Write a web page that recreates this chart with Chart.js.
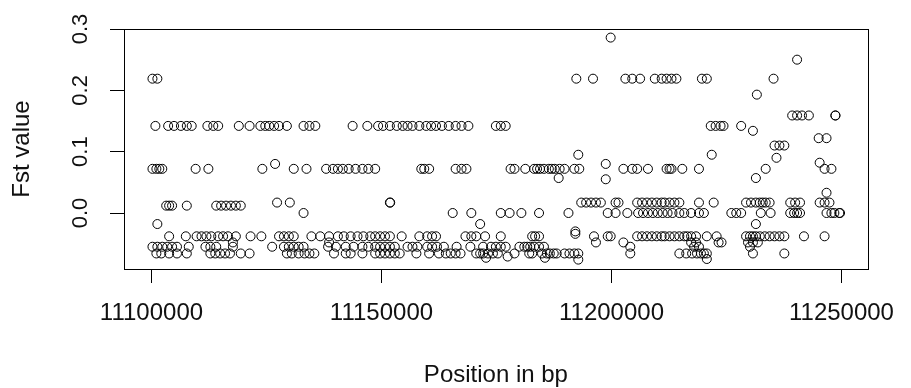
<!DOCTYPE html>
<html><head><meta charset="utf-8">
<script src="https://cdn.jsdelivr.net/npm/chart.js@4"></script>
<style>html,body{margin:0;padding:0;background:#fff}canvas{display:block}</style>
</head><body>
<canvas id="c" width="911" height="388"></canvas>
<script>
// Fst levels at which most SNPs sit
const rowFst = [0.219, 0.142, 0.072, 0.012, 0.017, 0.0, -0.018, -0.038, -0.048, -0.055, -0.066];

const posFst0219 = [11100213, 11101280, 11192359, 11195985, 11203024, 11204517, 11206223, 11209423, 11210916, 11211983, 11213049, 11214116, 11219661, 11220728, 11235232];
const posFst0142 = [11100853, 11103626, 11104906, 11106399, 11107679, 11108745, 11112158, 11113438, 11114504, 11118984, 11121330, 11123676, 11124743, 11125596, 11126663, 11127729, 11129435, 11133062, 11134341, 11135621, 11143727, 11146926, 11149272, 11150339, 11151832, 11153325, 11154605, 11155671, 11156738, 11158231, 11159724, 11160791, 11161857, 11163137, 11164630, 11166123, 11167403, 11168896, 11174868, 11175935, 11177001, 11221581, 11222648, 11223714, 11224354, 11228193];
const posFst0072 = [11100213, 11101067, 11101706, 11102346, 11109599, 11112371, 11124103, 11130929, 11133701, 11137967, 11139461, 11140527, 11141594, 11142873, 11144366, 11145860, 11147139, 11148632, 11158658, 11159297, 11160364, 11166123, 11167403, 11168469, 11178068, 11178921, 11181267, 11183187, 11183827, 11184467, 11185320, 11186387, 11187026, 11187666, 11188733, 11189799, 11191932, 11192999, 11202597, 11204517, 11205584, 11207930, 11211983, 11212622, 11213049, 11215395, 11219021, 11233526, 11246324, 11247817];
const posFst0012 = [11103200, 11103839, 11104479, 11107679, 11114078, 11115144, 11116211, 11117277, 11118344, 11119410];
const posFst0017 = [11127302, 11130075, 11151832, 11151900, 11193425, 11194492, 11195558, 11196625, 11197691, 11200891, 11201531, 11205584, 11206650, 11207717, 11208783, 11209850, 11210916, 11211556, 11212622, 11213689, 11214755, 11219021, 11222221, 11229260, 11230326, 11231393, 11232246, 11232886, 11233526, 11234379, 11238858, 11239925, 11240991, 11245257, 11246324, 11247390];
const posFst0000 = [11133062, 11165483, 11169536, 11175935, 11177855, 11180414, 11184254, 11190653, 11199185, 11200891, 11203451, 11205797, 11206863, 11207930, 11208996, 11210063, 11211129, 11212196, 11213262, 11214755, 11215822, 11217315, 11219021, 11220088, 11226060, 11227127, 11228193, 11232459, 11234592, 11238858, 11239712, 11240351, 11240991, 11246750, 11247817, 11248457, 11249523, 11249700];
const posFstM018 = [11101280, 11171456, 11231393];
const posFstM038 = [11103839, 11107466, 11109812, 11110878, 11111945, 11113011, 11114504, 11115571, 11116637, 11118344, 11121543, 11123890, 11127729, 11128796, 11129862, 11130929, 11134768, 11136688, 11138607, 11140527, 11141807, 11143300, 11144793, 11146073, 11147566, 11148632, 11149699, 11150765, 11151832, 11154392, 11158231, 11159937, 11161004, 11161857, 11168256, 11169536, 11170602, 11172522, 11175935, 11182760, 11183400, 11184254, 11196198, 11199185, 11199824, 11205584, 11206650, 11207717, 11208783, 11209850, 11210916, 11211556, 11212622, 11213689, 11214755, 11215822, 11216462, 11217315, 11218382, 11220728, 11222861, 11229260, 11230113, 11230753, 11231393, 11232246, 11233312, 11234379, 11235446, 11236512, 11237579, 11241845, 11246324];
const posFstM048 = [11117704, 11138607, 11196625, 11202597, 11217315, 11218382, 11223287, 11223927, 11229686, 11230753, 11231819];
const posFstM055 = [11100213, 11101280, 11102346, 11103413, 11104479, 11105546, 11108105, 11111732, 11112798, 11114078, 11117704, 11126236, 11128796, 11129862, 11130929, 11131995, 11133062, 11138394, 11140100, 11142233, 11143940, 11145860, 11147139, 11148632, 11149699, 11150765, 11151832, 11152898, 11155671, 11156738, 11157804, 11159937, 11161004, 11162070, 11163563, 11166336, 11169323, 11172095, 11173802, 11174868, 11175935, 11177001, 11179988, 11181054, 11181694, 11182334, 11183187, 11184254, 11185320, 11204090, 11217955, 11219021, 11230113];
const posFstM066 = [11101067, 11102133, 11103839, 11105546, 11107679, 11112798, 11113865, 11114931, 11115998, 11117064, 11119410, 11121330, 11129435, 11130502, 11131995, 11133275, 11134341, 11135408, 11139674, 11142233, 11143300, 11145860, 11148632, 11149699, 11150765, 11151832, 11152898, 11153965, 11157591, 11160364, 11162497, 11163990, 11165056, 11166123, 11167190, 11170602, 11171456, 11172095, 11173162, 11174228, 11175295, 11178921, 11182121, 11182760, 11184893, 11185960, 11186600, 11187453, 11188093, 11189799, 11190866, 11191932, 11192786, 11204090, 11214755, 11216249, 11217528, 11218595, 11219448, 11220088, 11220728, 11230753, 11237579];

const rowPositions = [posFst0219, posFst0142, posFst0072, posFst0012, posFst0017, posFst0000, posFstM018, posFstM038, posFstM048, posFstM055, posFstM066];

// SNPs off the common levels
const otherPositions = [11199824, 11240351, 11231606, 11239285, 11240351, 11241418, 11242911, 11248670, 11248700, 11230753, 11245044, 11246750, 11235446, 11236512, 11237579, 11221794, 11235872, 11192786, 11198758, 11126876, 11245257, 11231393, 11188520, 11198758, 11246750, 11192146, 11192146, 11220728, 11192786, 11177428, 11172735, 11185533];
const otherFst = [0.286, 0.25, 0.193, 0.159, 0.159, 0.159, 0.159, 0.159, 0.159, 0.134, 0.122, 0.122, 0.11, 0.11, 0.11, 0.095, 0.09, 0.095, 0.08, 0.08, 0.082, 0.057, 0.057, 0.055, 0.033, -0.030, -0.034, -0.075, -0.076, -0.071, -0.073, -0.073];

const xTickValues = [11100000, 11150000, 11200000, 11250000];
const yTickValues = [0, 0.1, 0.2, 0.3];
const xRange = [11094027, 11255730];
const yRange = [-0.0913, 0.3];

const points = [];
rowFst.forEach((f, i) => rowPositions[i].forEach(p => points.push({x: p, y: f})));
otherPositions.forEach((p, i) => points.push({x: p, y: otherFst[i]}));

const FONT = "'Liberation Sans',Arial,sans-serif";
const TXT = '#111';

const boxPlugin = {
  id: 'box',
  afterDraw(chart) {
    const {ctx, chartArea: a} = chart;
    ctx.save();
    ctx.strokeStyle = '#000';
    ctx.lineWidth = 1;
    const l = Math.round(a.left) + 0.5, t = Math.round(a.top) + 0.5;
    const r = Math.round(a.right) + 0.5, b = Math.round(a.bottom) + 0.5;
    ctx.strokeRect(l, t, r - l, b - t);
    ctx.restore();
  }
};

new Chart(document.getElementById('c'), {
  type: 'scatter',
  data: {
    datasets: [{
      data: points,
      pointStyle: 'circle',
      pointRadius: 4.5,
      pointHoverRadius: 4.5,
      borderColor: '#000',
      backgroundColor: 'rgba(0,0,0,0)',
      borderWidth: 1
    }]
  },
  options: {
    responsive: false,
    animation: false,
    devicePixelRatio: 1,
    layout: {padding: {top: 29, right: 29, left: 0, bottom: 0}},
    plugins: {legend: {display: false}, tooltip: {enabled: false}},
    scales: {
      x: {
        type: 'linear', position: 'bottom', min: xRange[0], max: xRange[1],
        afterBuildTicks: s => { s.ticks = xTickValues.map(v => ({value: v})); },
        afterFit: s => { s.height = 119; },
        grid: {display: true, drawOnChartArea: false, drawTicks: true, tickLength: 14, color: '#000', lineWidth: 1},
        border: {display: false},
        ticks: {autoSkip: false, maxRotation: 0, minRotation: 0, padding: 16, color: TXT,
                font: {family: FONT, size: 24}, callback: v => String(v)},
        title: {display: true, text: 'Position in bp', color: TXT,
                font: {family: FONT, size: 24, lineHeight: 1}, padding: {top: 0, bottom: 1}}
      },
      y: {
        type: 'linear', position: 'left', min: yRange[0], max: yRange[1],
        afterBuildTicks: s => { s.ticks = yTickValues.map(v => ({value: v})); },
        afterFit: s => { s.width = 124; },
        grid: {display: true, drawOnChartArea: false, drawTicks: true, tickLength: 14, color: '#000', lineWidth: 1},
        border: {display: false},
        ticks: {autoSkip: false, minRotation: 90, maxRotation: 90, crossAlign: 'center', padding: 14, color: TXT,
                font: {family: FONT, size: 22}, callback: v => Number(v).toFixed(1)},
        title: {display: true, text: 'Fst value', color: TXT,
                font: {family: FONT, size: 24, lineHeight: 1}, padding: {top: 10, bottom: 0}}
      }
    }
  },
  plugins: [boxPlugin]
});
</script>
</body></html>
